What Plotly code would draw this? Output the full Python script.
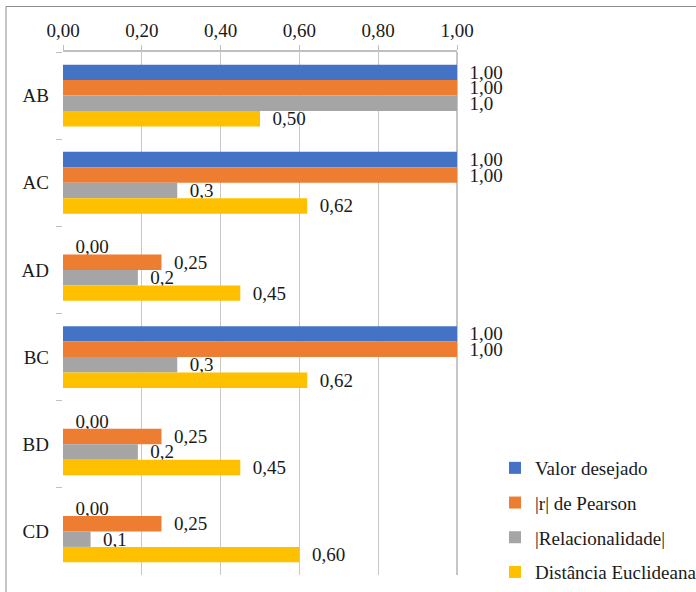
import plotly.graph_objects as go

# Pair comparisons and the four measures drawn for each pair
categories = ["AB", "AC", "AD", "BC", "BD", "CD"]
valor_desejado = [1.00, 1.00, 0.00, 1.00, 0.00, 0.00]
r_pearson = [1.00, 1.00, 0.25, 1.00, 0.25, 0.25]
relacionalidade = [1.00, 0.29, 0.19, 0.29, 0.19, 0.07]
distancia_euclideana = [0.50, 0.62, 0.45, 0.62, 0.45, 0.60]

x_ticks = [0.0, 0.2, 0.4, 0.6, 0.8, 1.0]

FONT = "Liberation Serif, Times New Roman, DejaVu Serif, serif"
TXT = "#1a1a1a"
W, H = 696, 592
# plot area in pixels (left, right, top, bottom)
PL, PR, PT, PB = 63, 457, 52, 575

series = [
    ("Valor desejado", valor_desejado, "#4472C4", ".2f"),
    ("|r| de Pearson", r_pearson, "#ED7D31", ".2f"),
    ("|Relacionalidade|", relacionalidade, "#A5A5A5", ".1f"),
    ("Distância Euclideana", distancia_euclideana, "#FFC000", ".2f"),
]

fig = go.Figure()
for name, vals, color, fmt in series:
    fig.add_trace(go.Bar(
        name=name,
        y=categories,
        x=vals,
        orientation="h",
        marker=dict(color=color, line=dict(width=0)),
        texttemplate="\u00a0\u00a0%{x:" + fmt + "}",
        textposition="outside",
        textfont=dict(family=FONT, size=19, color=TXT),
        constraintext="none",
        cliponaxis=False,
        legendgroup=name,
    ))


def fx(px):
    return px / W


def fy(py):
    return (H - py) / H


fig.update_layout(
    width=W,
    height=H,
    margin=dict(l=0, r=0, t=0, b=0, autoexpand=False),
    paper_bgcolor="white",
    plot_bgcolor="white",
    separators=",.",
    barmode="group",
    bargap=0.29,
    bargroupgap=0,
    font=dict(family=FONT, size=19, color=TXT),
    showlegend=True,
    legend=dict(
        x=fx(495),
        y=fy(449),
        xanchor="left",
        yanchor="top",
        traceorder="grouped",
        tracegroupgap=7,
        font=dict(family=FONT, size=19, color=TXT),
        bgcolor="rgba(0,0,0,0)",
    ),
    xaxis=dict(
        domain=[fx(PL), fx(PR)],
        side="top",
        range=[0, 1],
        tickvals=x_ticks,
        tickformat=".2f",
        showgrid=True,
        gridcolor="#c8c8c8",
        gridwidth=1,
        zeroline=False,
        showline=True,
        linecolor="#bfbfbf",
        linewidth=2,
        ticks="outside",
        ticklen=5,
        tickcolor="#bfbfbf",
        tickfont=dict(family=FONT, size=19, color=TXT),
        automargin=False,
        fixedrange=True,
    ),
    yaxis=dict(
        domain=[fy(PB), fy(PT)],
        type="category",
        categoryorder="array",
        categoryarray=categories,
        autorange="reversed",
        tickson="boundaries",
        ticks="outside",
        ticklen=6,
        tickcolor="#bfbfbf",
        ticklabelstandoff=13,
        showgrid=False,
        zeroline=False,
        showline=False,
        tickfont=dict(family=FONT, size=19, color=TXT),
        automargin=False,
        fixedrange=True,
    ),
    shapes=[
        # outer chart frame
        dict(type="rect", xref="paper", yref="paper",
             x0=fx(6), x1=fx(720), y0=fy(620), y1=fy(6.5),
             line=dict(color="#8c8c8c", width=1), fillcolor="rgba(0,0,0,0)",
             layer="below"),
        # right edge of the plot area
        dict(type="line", xref="x domain", yref="y domain",
             x0=1, x1=1, y0=0, y1=1,
             line=dict(color="#8c8c8c", width=1), layer="below"),
    ],
)

fig.write_html("out.html")
